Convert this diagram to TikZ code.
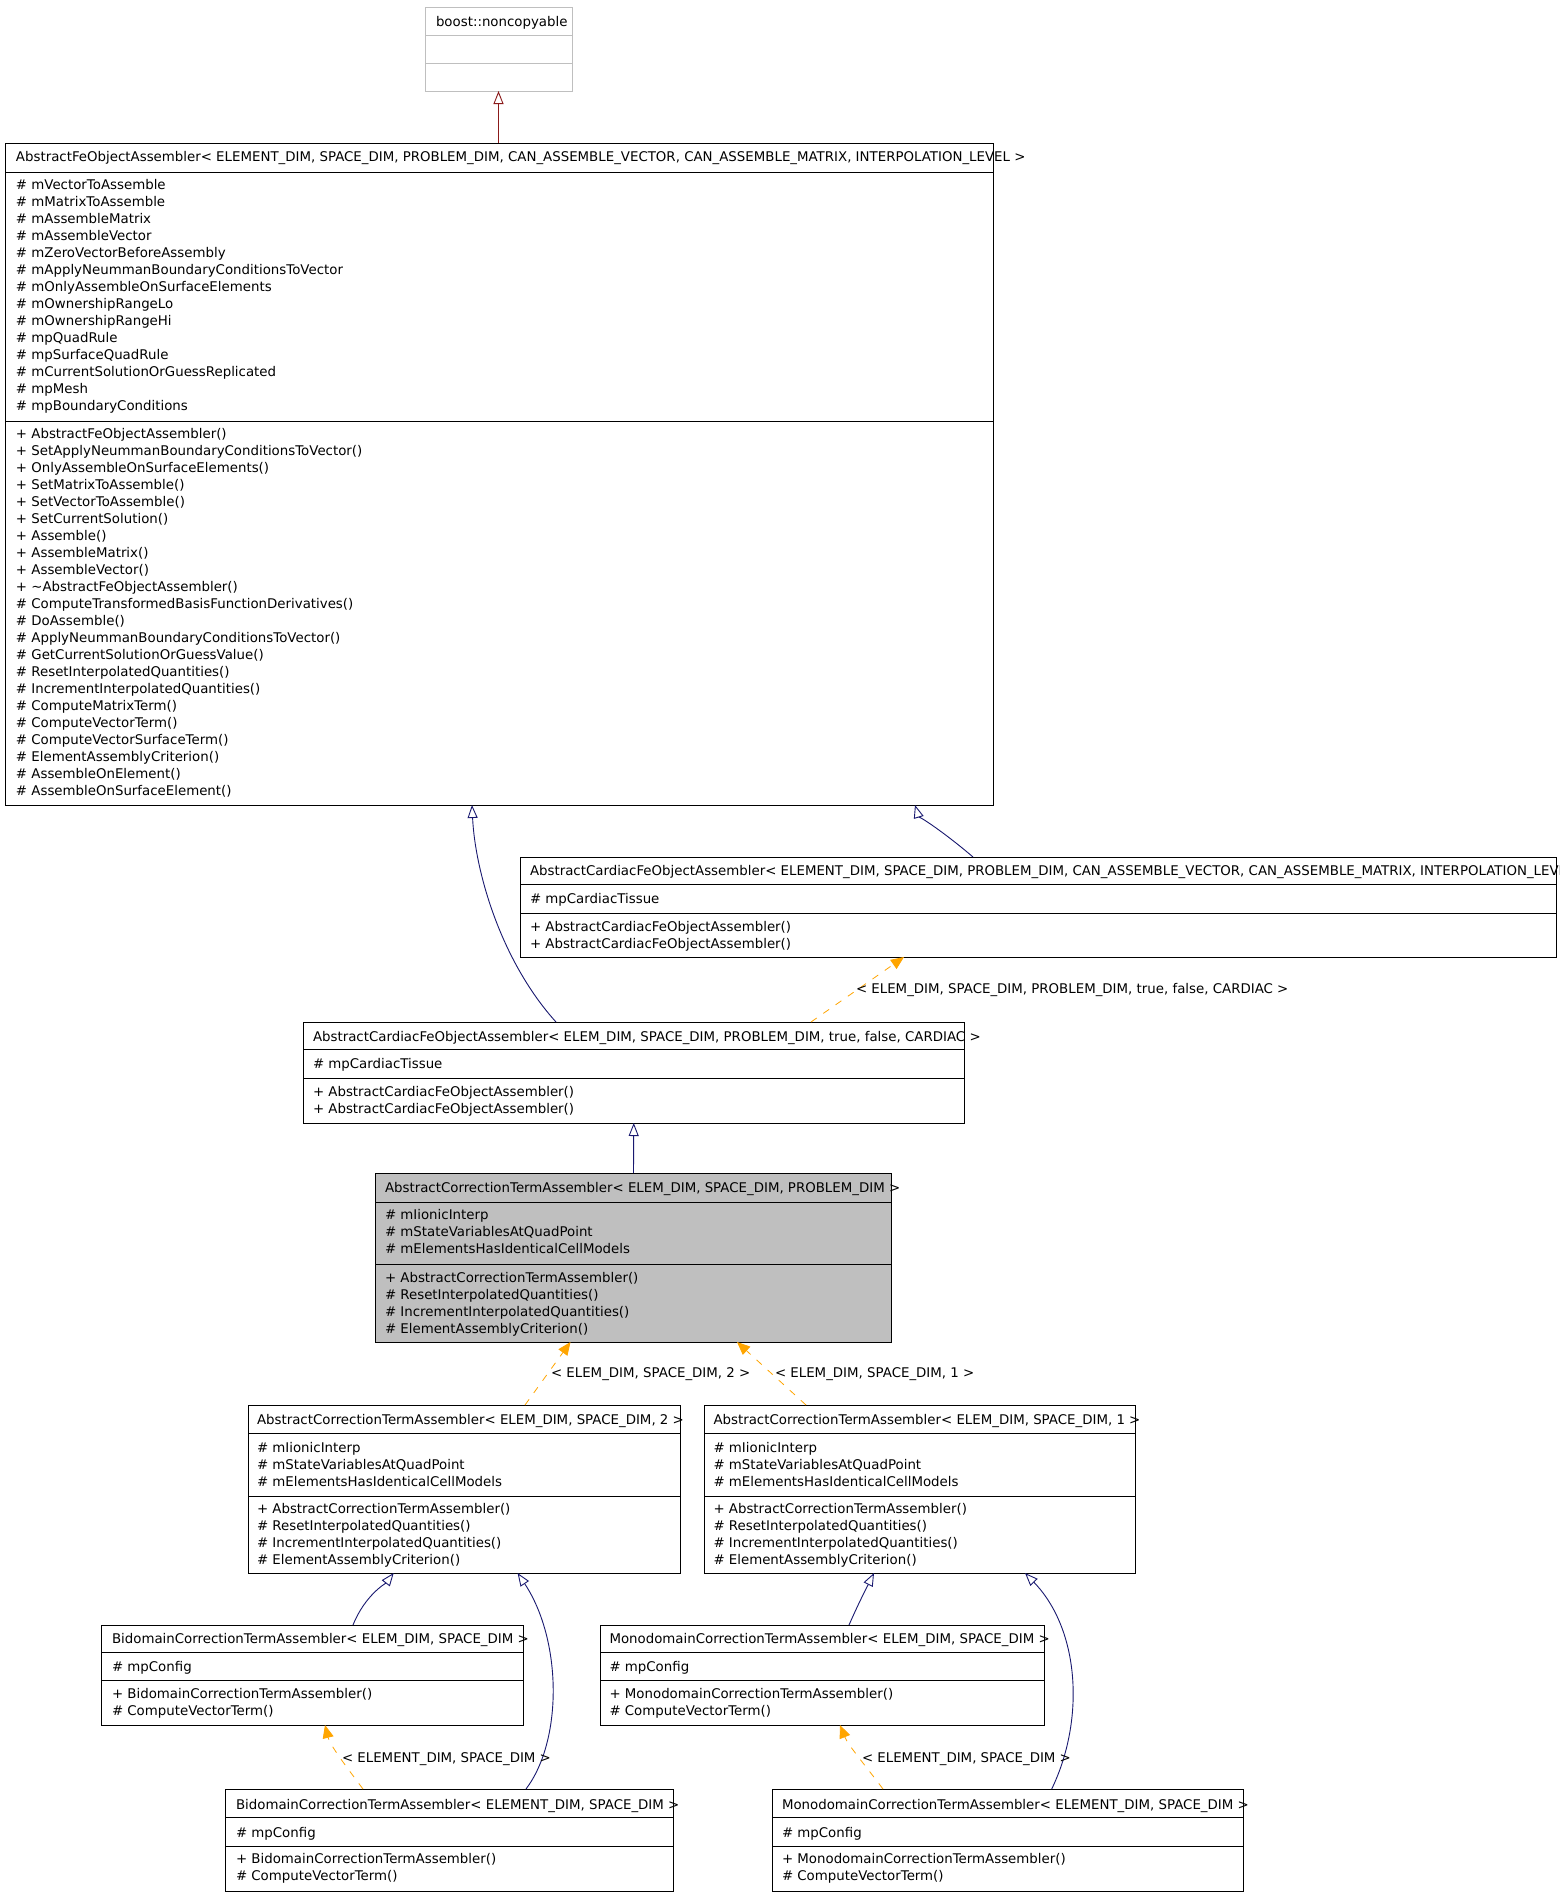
\documentclass[tikz,border=0pt]{standalone}
\usepackage{fontspec}
\setmainfont{DejaVu Sans}
\usetikzlibrary{arrows.meta}
\definecolor{inhcol}{HTML}{191970}
\definecolor{privcol}{HTML}{8B1A1A}
\definecolor{tmplcol}{HTML}{FFA500}
\definecolor{boxgray}{HTML}{BFBFBF}
\tikzset{
  classbox/.style={draw=black, line width=1pt, inner sep=0pt, outer sep=0pt, fill=white},
  divline/.style={draw=black, line width=1pt},
  txt/.style={anchor=base west, inner sep=0pt, outer sep=0pt, font=\fontsize{13.35}{17}\selectfont},
  inh/.style={draw=inhcol, line width=0.9pt, -{Triangle[open, length=13pt, width=10pt, fill=white]}},
  privinh/.style={draw=privcol, line width=0.9pt, -{Triangle[open, length=13pt, width=10pt, fill=white]}},
  inst/.style={draw=tmplcol, line width=0.8pt, dash pattern=on 7pt off 8pt, -{Triangle[length=13pt, width=11pt, fill=tmplcol]}},
}
% #1 style, #2 name, #3 L, #4 T, #5 R, #6 B, #7 D1, #8 D2
\newcommand\umlbox[8][]{%
  \node[classbox,#1,minimum width={#5-#3}, minimum height={#6-#4}] (#2) at ({(#3+#5)/2},{(#4+#6)/2}) {};
  \draw[divline,#1] (#3,#7) -- (#5,#7) (#3,#8) -- (#5,#8);
}
% #1 prefix, #2 x, #3 first baseline, #4 list
\newcommand\members[4]{%
  \foreach \t [count=\i from 0] in {#4} {\node[txt] (#1\i) at (#2,{#3+17*\i}) {\t};}
}
\begin{document}
\begin{tikzpicture}[x=1pt,y=-1pt]
\clip (0,0) rectangle (1560,1896);
\fill[white] (0,0) rectangle (1560,1896);

% boost::noncopyable
\umlbox[draw=boxgray]{boost}{425}{7}{572}{91}{35}{63}
\node[txt] (boostT) at (436,26) {boost::noncopyable};

% AbstractFeObjectAssembler
\umlbox{afoa}{5}{143}{993}{805}{172}{421}
\node[txt] (afoaT) at (16,161) {AbstractFeObjectAssembler< ELEMENT\_DIM, SPACE\_DIM, PROBLEM\_DIM, CAN\_ASSEMBLE\_VECTOR, CAN\_ASSEMBLE\_MATRIX, INTERPOLATION\_LEVEL >};
\members{afoaA}{16}{189}{\# mVectorToAssemble, \# mMatrixToAssemble, \# mAssembleMatrix, \# mAssembleVector, \# mZeroVectorBeforeAssembly, \# mApplyNeummanBoundaryConditionsToVector, \# mOnlyAssembleOnSurfaceElements, \# mOwnershipRangeLo, \# mOwnershipRangeHi, \# mpQuadRule, \# mpSurfaceQuadRule, \# mCurrentSolutionOrGuessReplicated, \# mpMesh, \# mpBoundaryConditions}
\members{afoaM}{16}{438}{+ AbstractFeObjectAssembler(), + SetApplyNeummanBoundaryConditionsToVector(), + OnlyAssembleOnSurfaceElements(), + SetMatrixToAssemble(), + SetVectorToAssemble(), + SetCurrentSolution(), + Assemble(), + AssembleMatrix(), + AssembleVector(), {+ \textasciitilde AbstractFeObjectAssembler()}, \# ComputeTransformedBasisFunctionDerivatives(), \# DoAssemble(), \# ApplyNeummanBoundaryConditionsToVector(), \# GetCurrentSolutionOrGuessValue(), \# ResetInterpolatedQuantities(), \# IncrementInterpolatedQuantities(), \# ComputeMatrixTerm(), \# ComputeVectorTerm(), \# ComputeVectorSurfaceTerm(), \# ElementAssemblyCriterion(), \# AssembleOnElement(), \# AssembleOnSurfaceElement()}

% AbstractCardiacFeObjectAssembler generic
\umlbox{cardG}{520}{857}{1556}{957}{884}{913}
\node[txt] (cardGT) at (530,875) {AbstractCardiacFeObjectAssembler< ELEMENT\_DIM, SPACE\_DIM, PROBLEM\_DIM, CAN\_ASSEMBLE\_VECTOR, CAN\_ASSEMBLE\_MATRIX, INTERPOLATION\_LEVEL >};
\members{cardGA}{530}{903}{\# mpCardiacTissue}
\members{cardGM}{530}{931}{+ AbstractCardiacFeObjectAssembler(), + AbstractCardiacFeObjectAssembler()}

% AbstractCardiacFeObjectAssembler instance
\umlbox{cardE}{303.5}{1022}{964}{1123}{1049}{1078}
\node[txt] (cardET) at (313,1041) {AbstractCardiacFeObjectAssembler< ELEM\_DIM, SPACE\_DIM, PROBLEM\_DIM, true, false, CARDIAC >};
\members{cardEA}{313}{1068}{\# mpCardiacTissue}
\members{cardEM}{313}{1096}{+ AbstractCardiacFeObjectAssembler(), + AbstractCardiacFeObjectAssembler()}

% AbstractCorrectionTermAssembler (highlighted)
\umlbox[fill=boxgray]{acta}{375.5}{1173}{891.5}{1342}{1202}{1264}
\node[txt] (actaT) at (385,1192) {AbstractCorrectionTermAssembler< ELEM\_DIM, SPACE\_DIM, PROBLEM\_DIM >};
\members{actaA}{385}{1219}{\# mIionicInterp, \# mStateVariablesAtQuadPoint, \# mElementsHasIdenticalCellModels}
\members{actaM}{385}{1282}{+ AbstractCorrectionTermAssembler(), \# ResetInterpolatedQuantities(), \# IncrementInterpolatedQuantities(), \# ElementAssemblyCriterion()}

% ACTA < 2 >
\umlbox{acta2}{248}{1405}{680}{1573}{1433}{1496}
\node[txt] (acta2T) at (257,1424) {AbstractCorrectionTermAssembler< ELEM\_DIM, SPACE\_DIM, 2 >};
\members{acta2A}{257}{1452}{\# mIionicInterp, \# mStateVariablesAtQuadPoint, \# mElementsHasIdenticalCellModels}
\members{acta2M}{257}{1513}{+ AbstractCorrectionTermAssembler(), \# ResetInterpolatedQuantities(), \# IncrementInterpolatedQuantities(), \# ElementAssemblyCriterion()}

% ACTA < 1 >
\umlbox{acta1}{704}{1405}{1135.5}{1573}{1433}{1496}
\node[txt] (acta1T) at (713.5,1424) {AbstractCorrectionTermAssembler< ELEM\_DIM, SPACE\_DIM, 1 >};
\members{acta1A}{713.5}{1452}{\# mIionicInterp, \# mStateVariablesAtQuadPoint, \# mElementsHasIdenticalCellModels}
\members{acta1M}{713.5}{1513}{+ AbstractCorrectionTermAssembler(), \# ResetInterpolatedQuantities(), \# IncrementInterpolatedQuantities(), \# ElementAssemblyCriterion()}

% Bidomain ELEM
\umlbox{biE}{101.5}{1625}{523.5}{1725}{1652}{1680}
\node[txt] (biET) at (112,1643) {BidomainCorrectionTermAssembler< ELEM\_DIM, SPACE\_DIM >};
\members{biEA}{112}{1671}{\# mpConfig}
\members{biEM}{112}{1698}{+ BidomainCorrectionTermAssembler(), \# ComputeVectorTerm()}

% Monodomain ELEM
\umlbox{monoE}{600}{1625}{1044}{1725}{1652}{1680}
\node[txt] (monoET) at (609.5,1643) {MonodomainCorrectionTermAssembler< ELEM\_DIM, SPACE\_DIM >};
\members{monoEA}{609.5}{1671}{\# mpConfig}
\members{monoEM}{609.5}{1698}{+ MonodomainCorrectionTermAssembler(), \# ComputeVectorTerm()}

% Bidomain ELEMENT
\umlbox{biEL}{225.5}{1789}{673}{1891}{1817}{1846}
\node[txt] (biELT) at (236,1809) {BidomainCorrectionTermAssembler< ELEMENT\_DIM, SPACE\_DIM >};
\members{biELA}{236}{1837}{\# mpConfig}
\members{biELM}{236}{1863}{+ BidomainCorrectionTermAssembler(), \# ComputeVectorTerm()}

% Monodomain ELEMENT
\umlbox{monoEL}{772.5}{1789}{1243}{1891}{1817}{1846}
\node[txt] (monoELT) at (782,1809) {MonodomainCorrectionTermAssembler< ELEMENT\_DIM, SPACE\_DIM >};
\members{monoELA}{782}{1837}{\# mpConfig}
\members{monoELM}{782}{1863}{+ MonodomainCorrectionTermAssembler(), \# ComputeVectorTerm()}

% ---- connectors ----
\draw[privinh] (afoa.north -| boost.south) -- (boost.south);
\draw[inh] ([xshift=252.5pt]cardE.north west) .. controls (500,960) and (475,870) .. ([xshift=467pt]afoa.south west);
\draw[inh] ([xshift=453pt]cardG.north west) .. controls (945,833) and (918,815) .. ([xshift=910pt]afoa.south west);
\draw[inst] ([xshift=507.5pt]cardE.north west) -- ([xshift=384pt]cardG.south west);
\node[txt] (lblCard) at (856,993) {< ELEM\_DIM, SPACE\_DIM, PROBLEM\_DIM, true, false, CARDIAC >};
\draw[inh] (acta.north) -- (cardE.south);
\draw[inst] ([xshift=277pt]acta2.north west) -- ([xshift=195pt]acta.south west);
\node[txt] (lbl2) at (551,1377) {< ELEM\_DIM, SPACE\_DIM, 2 >};
\draw[inst] ([xshift=102pt]acta1.north west) -- ([xshift=361.5pt]acta.south west);
\node[txt] (lbl1) at (775,1377) {< ELEM\_DIM, SPACE\_DIM, 1 >};
\draw[inh] ([xshift=251.5pt]biE.north west) .. controls (365,1595) and (386,1583) .. ([xshift=145.7pt]acta2.south west);
\draw[inh] ([xshift=300.5pt]biEL.north west) .. controls (563,1740) and (562,1640) .. ([xshift=269.6pt]acta2.south west);
\draw[inh] ([xshift=249pt]monoE.north west) .. controls (860,1600) and (868,1585) .. ([xshift=170pt]acta1.south west);
\draw[inh] ([xshift=279.2pt]monoEL.north west) .. controls (1085,1720) and (1080,1630) .. ([xshift=321pt]acta1.south west);
\draw[inst] ([xshift=137.5pt]biEL.north west) .. controls (345,1765) and (330,1745) .. ([xshift=223.5pt]biE.south west);
\node[txt] (lblBi) at (342,1762) {< ELEMENT\_DIM, SPACE\_DIM >};
\draw[inst] ([xshift=110.5pt]monoEL.north west) .. controls (865,1765) and (848,1745) .. ([xshift=240pt]monoE.south west);
\node[txt] (lblMono) at (862,1762) {< ELEMENT\_DIM, SPACE\_DIM >};
\end{tikzpicture}
\end{document}
